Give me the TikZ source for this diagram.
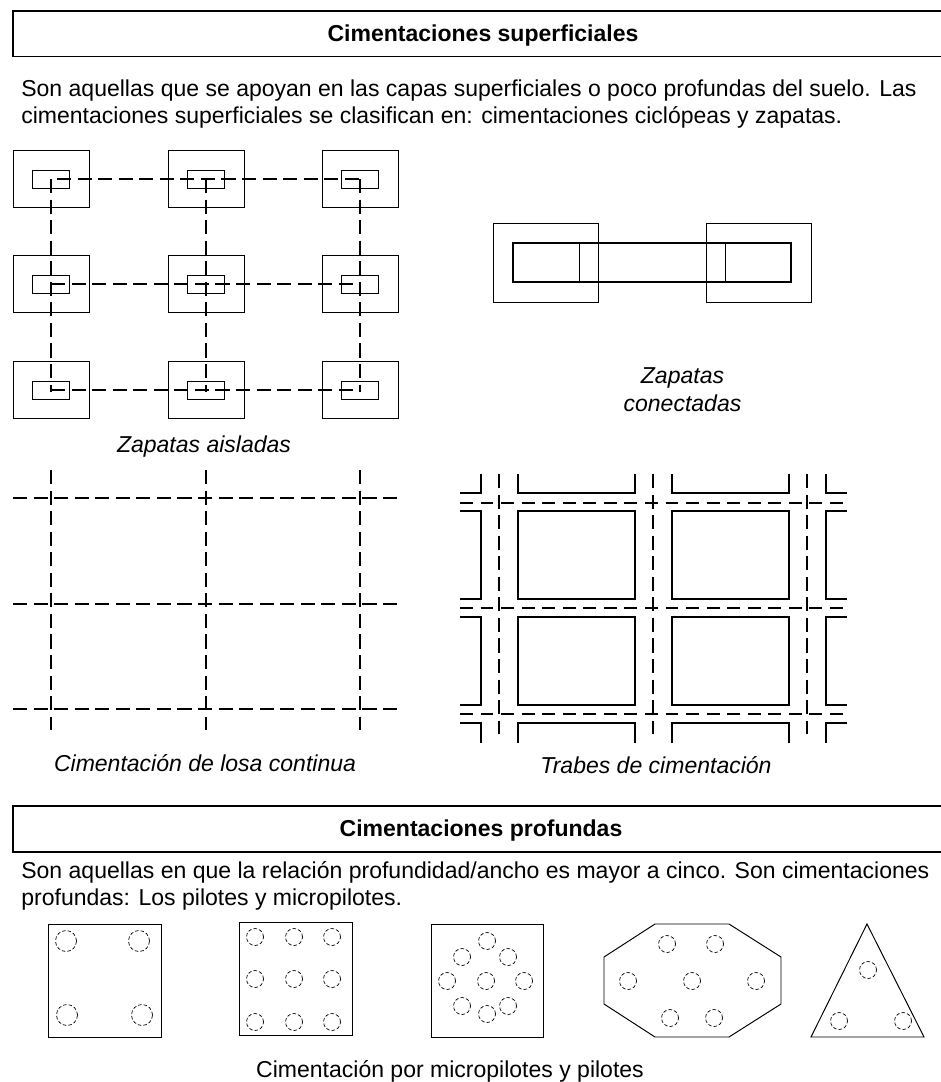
\documentclass[tikz,border=0pt]{standalone}
\usepackage{fontspec}
\setmainfont{Liberation Sans}
\usetikzlibrary{calc,positioning,fit}
\begin{document}
\begin{tikzpicture}[x=0.02cm,y=-0.02cm, ln/.style={draw,line width=.55pt},thk/.style={draw,line width=.7pt},dsh/.style={line width=.7pt,dash pattern=on 8pt off 3.7pt},dshb/.style={line width=.7pt,dash pattern=on 7.3pt off 4.4pt},pile/.style={circle,draw,line width=.4pt,dash pattern=on 2pt off 1.2pt,minimum size=.34cm,inner sep=0pt},pilebig/.style={pile,minimum size=.42cm},txt/.style={font=\fontsize{13.1}{15}\selectfont,anchor=base west,inner sep=0pt},ttl/.style={font=\fontsize{13.1}{15}\selectfont\bfseries,anchor=base,inner sep=0pt},lbl/.style={font=\fontsize{13.1}{15}\selectfont\itshape,anchor=base,inner sep=0pt}]
  \useasboundingbox (0,0) rectangle (940,1082);
  % titles
  \draw[thk] (945,11) -- (13,11) -- (13,56.5) -- (945,56.5);
  \node[ttl] (t1) at (483,41) {Cimentaciones superficiales};
  \node[txt] (p1) at (21,96) {Son aquellas que se apoyan en las capas superficiales o poco profundas del suelo. Las};
  \node[txt] (p2) at (21,123.5) {cimentaciones superficiales se clasifican en: cimentaciones cicl\'opeas y zapatas.};
  % zapatas aisladas
  \foreach \cx/\n in {51/a,206/b,360/c}
    \foreach \cy/\m in {179/1,284/2,390/3} {
      \node[ln,minimum width=1.52cm,minimum height=1.14cm,inner sep=0pt] (\n\m) at (\cx,\cy) {};
      \node[ln,minimum width=.74cm,minimum height=.36cm,inner sep=0pt] (i\n\m) at (\cx,\cy) {};
    }
  \foreach \sx/\cy in {57/179,51/284,51/390}
    \draw[dsh] (\sx,\cy) -- (360,\cy);
  \foreach \cx in {51,206,360}
    \draw[dsh] (\cx,179) -- (\cx,392);
  \node[lbl] (c1) at (204,452) {Zapatas aisladas};
  % zapatas conectadas
  \node[ln,minimum width=2.1cm,minimum height=1.58cm,inner sep=0pt] (z1) at (545.5,262.5) {};
  \node[ln,minimum width=2.1cm,minimum height=1.58cm,inner sep=0pt] (z2) at (758.5,262.5) {};
  \draw[ln,line width=.65pt] (513,243) rectangle (791,282);
  \draw[ln] (579,243) -- (579,282);
  \draw[ln] (725,243) -- (725,282);
  \node[lbl] (c2) at (682.5,383) {Zapatas};
  \node[lbl] (c3) at (682.5,411) {conectadas};
  % losa continua
  \foreach \cx in {51,206,360}
    \draw[dsh] (\cx,470) -- (\cx,730);
  \foreach \cy in {498,604,709}
    \draw[dsh] (13,\cy) -- (399,\cy);
  \node[lbl] (c4) at (205,771) {Cimentaci\'on de losa continua};
  % trabes
  \foreach \cx in {518,672}
    \foreach \cy in {511,617}
      \draw[thk] (\cx,\cy) rectangle ++(117,88);
  \foreach \cx in {518,672} {
    \draw[thk] (\cx,474) -- (\cx,493) -- ++(117,0) -- ++(0,-19);
    \draw[thk] (\cx,743) -- (\cx,723) -- ++(117,0) -- ++(0,20);
  }
  \draw[thk] (460,493) -| (481,474);
  \draw[thk] (847,493) -| (826,474);
  \draw[thk] (460,723) -| (481,743);
  \draw[thk] (847,723) -| (826,743);
  \foreach \cy in {511,617} {
    \draw[thk] (460,\cy) -| (481,\cy+88) -- (460,\cy+88);
    \draw[thk] (847,\cy) -| (826,\cy+88) -- (847,\cy+88);
  }
  \foreach \cx in {499,653,807}
    \draw[dsh] (\cx,474) -- (\cx,734);
  \foreach \cy in {503,608,714}
    \draw[dshb] (460,\cy) -- (847,\cy);
  \node[lbl] (c5) at (656,773) {Trabes de cimentaci\'on};
  % profundas
  \draw[thk] (945,806) -- (13,806) -- (13,852) -- (945,852);
  \node[ttl] (t2) at (481,836) {Cimentaciones profundas};
  \node[txt] (p3) at (21,878) {Son aquellas en que la relaci\'on profundidad/ancho es mayor a cinco. Son cimentaciones};
  \node[txt] (p4) at (21,905) {profundas: Los pilotes y micropilotes.};
  % losas de pilotes
  \draw[ln] (48,924) rectangle (161,1037);
  \draw[ln] (239,922) rectangle (352,1035);
  \draw[ln] (431,924) rectangle (543,1037);
  \draw[ln] (604,957) -- (655,924) -- (729,924) -- (781,957) -- (781,1004) -- (729,1037) -- (655,1037) -- (604,1004) -- cycle;
  \draw[ln] (867,924) -- (924,1037) -- (811,1037) -- cycle;
  \foreach \px/\py [count=\i] in {66/941,139/941,67/1015,142/1015}
    \node[pilebig] (g\i) at (\px,\py) {};
  \foreach \px/\py [count=\i] in {255/937,294/937,332/937,255/979,294/979,332/979,255/1022,294/1022,332/1022,%
    487/941,462/957,508/957,447/981,486/981,524/981,462/1006,508/1006,487/1014,%
    667/944,715/944,628/981,692/981,756/981,670/1018,714/1018,868/970,839/1021,903/1021}
    \node[pile] (h\i) at (\px,\py) {};
  \node[font=\fontsize{13.1}{15}\selectfont,anchor=base,inner sep=0pt] (c6) at (450,1077) {Cimentaci\'on por micropilotes y pilotes};
\end{tikzpicture}
\end{document}
